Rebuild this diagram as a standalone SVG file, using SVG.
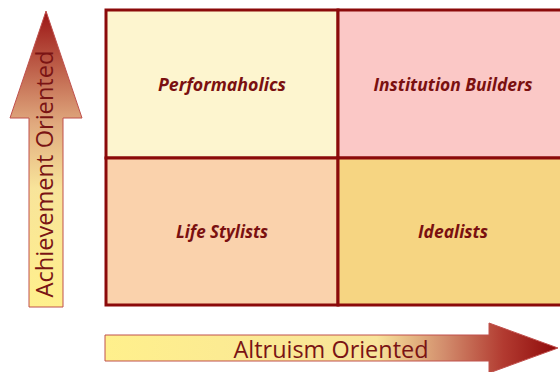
<svg xmlns="http://www.w3.org/2000/svg" width="560" height="372" viewBox="0 0 560 372">
  <defs>
    <linearGradient id="gradUp" x1="0" y1="307" x2="0" y2="11" gradientUnits="userSpaceOnUse">
      <stop offset="0" stop-color="#FFF08C"/>
      <stop offset="0.4" stop-color="#F8E49A"/>
      <stop offset="0.62" stop-color="#E0A97E"/>
      <stop offset="1" stop-color="#9B1414"/>
    </linearGradient>
    <linearGradient id="gradRight" x1="105" y1="0" x2="558" y2="0" gradientUnits="userSpaceOnUse">
      <stop offset="0" stop-color="#FFF08C"/>
      <stop offset="0.6" stop-color="#F8E49A"/>
      <stop offset="0.75" stop-color="#D28C6C"/>
      <stop offset="0.88" stop-color="#B23A30"/>
      <stop offset="1" stop-color="#8E0A0A"/>
    </linearGradient>
    <style>
      .arrow { stroke: #C0504D; stroke-width: 1; }
      .cell { stroke: #8B0A0A; stroke-width: 3; }
      .label { font-family: "Open Sans", "Liberation Sans", sans-serif; font-weight: bold; font-style: italic; font-size: 18px; fill: #7A1010; text-anchor: middle; }
      .axis { font-family: "Open Sans", "Liberation Sans", sans-serif; font-size: 23px; fill: #7A1414; text-anchor: middle; }
    </style>
  </defs>

  <rect width="560" height="372" fill="#FFFFFF"/>

  <!-- vertical axis arrow -->
  <g id="axis-achievement">
    <polygon class="arrow" fill="url(#gradUp)" points="46,11 82,118 63,118 63,307 29,307 29,118 10,118"/>
    <text class="axis" transform="translate(53,174) rotate(-90)" textLength="247" lengthAdjust="spacingAndGlyphs">Achievement Oriented</text>
  </g>

  <!-- horizontal axis arrow -->
  <g id="axis-altruism">
    <polygon class="arrow" fill="url(#gradRight)" points="105,335 489,335 489,323 558,348 489,373 489,361 105,361"/>
    <text class="axis" x="331" y="358" textLength="195" lengthAdjust="spacingAndGlyphs">Altruism Oriented</text>
  </g>

  <!-- quadrants -->
  <g id="q-performaholics">
    <rect class="cell" x="106" y="10" width="232" height="148" fill="#FDF5CF"/>
    <text class="label" x="222" y="91" textLength="128" lengthAdjust="spacingAndGlyphs">Performaholics</text>
  </g>
  <g id="q-institution-builders">
    <rect class="cell" x="338" y="10" width="232" height="148" fill="#FBC8C6"/>
    <text class="label" x="453" y="91" textLength="159" lengthAdjust="spacingAndGlyphs">Institution Builders</text>
  </g>
  <g id="q-life-stylists">
    <rect class="cell" x="106" y="158" width="232" height="147" fill="#FAD2AC"/>
    <text class="label" x="222" y="238" textLength="92" lengthAdjust="spacingAndGlyphs">Life Stylists</text>
  </g>
  <g id="q-idealists">
    <rect class="cell" x="338" y="158" width="232" height="147" fill="#F6D582"/>
    <text class="label" x="453" y="238" textLength="70" lengthAdjust="spacingAndGlyphs">Idealists</text>
  </g>
</svg>
